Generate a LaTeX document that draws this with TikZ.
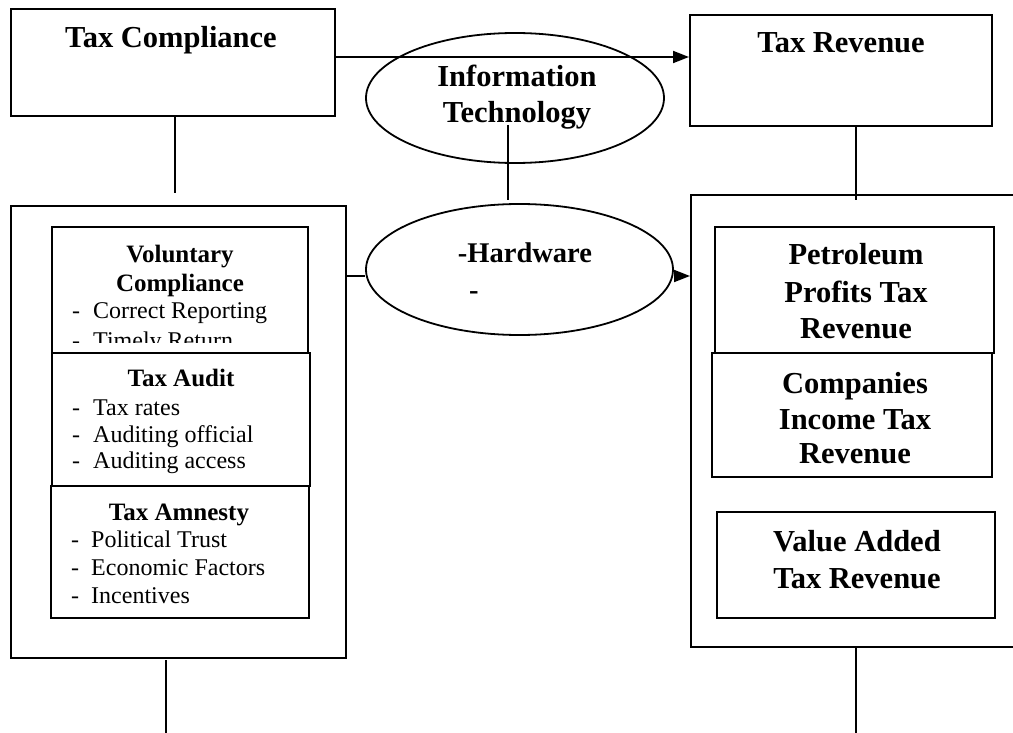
\documentclass[tikz,border=0pt]{standalone}
\usepackage{fontspec}
\setmainfont{Liberation Serif}
\usetikzlibrary{shapes.geometric,arrows.meta}
\newcommand{\ttlfont}{\fontsize{30.5}{36}\selectfont\bfseries}
\newcommand{\subfont}{\fontsize{25}{29}\selectfont\bfseries}
\newcommand{\itemfont}{\fontsize{24}{27}\selectfont}
\begin{document}
\begin{tikzpicture}[x=1pt,y=-1pt,
  box/.style={draw, line width=1.9pt, inner sep=0pt, anchor=north west, fill=white},
  oval/.style={draw, ellipse, line width=1.8pt, inner sep=0pt},
  conn/.style={line width=1.9pt},
  arr/.style={conn, -{Triangle[length=16pt,width=12pt]}},
  ttl/.style={anchor=base, font=\ttlfont, inner sep=0pt},
  sub/.style={anchor=base, font=\subfont, inner sep=0pt},
  item/.style={anchor=base west, font=\itemfont, inner sep=0pt}]
\useasboundingbox (0,0) rectangle (1013,733);

% outer frames
\node[box, minimum width=335pt, minimum height=452pt] (lo) at (10,205) {};
\begin{scope}
  \clip (0,0) rectangle (1013,733);
  \node[box, minimum width=345pt, minimum height=452pt] (ro) at (690,194) {};
\end{scope}

% top boxes
\node[box, minimum width=324pt, minimum height=107pt] (tc) at (10,8) {};
\node[ttl] (tct) at (171,48) {Tax Compliance};
\node[box, minimum width=302pt, minimum height=111pt] (tr) at (689,14) {};
\node[ttl] (trt) at (841,53) {Tax Revenue};

% ellipses
\node[oval, minimum width=298pt, minimum height=130pt] (it) at (515,98) {};
\node[ttl] (it1) at (517,87) {Information};
\node[ttl] (it2) at (517,123) {Technology};
\node[oval, minimum width=307pt, minimum height=131pt] (hw) at (519.5,269.5) {};
\node[ttl, font=\fontsize{28.5}{34}\selectfont\bfseries] (hw1) at (525,262) {-Hardware};
\node[anchor=base west, inner sep=0pt, font=\fontsize{28.5}{34}\selectfont\bfseries] (hw2) at (469,299) {-};

% left inner boxes
\node[box, minimum width=256pt, minimum height=126pt] (vc) at (51,226) {};
\begin{scope}
  \clip (51,226) rectangle (307,342);
  \node[sub] (vc1) at (180,262) {Voluntary};
  \node[sub] (vc2) at (180,291) {Compliance};
  \node[item] (vd1) at (72,318) {-};
  \node[item] (vi1) at (93,318) {Correct Reporting};
  \node[item] (vd2) at (72,348) {-};
  \node[item] (vi2) at (93,348) {Timely Return};
\end{scope}

\node[box, minimum width=258pt, minimum height=133pt] (ta) at (51,352) {};
\node[sub] (ta0) at (181,386) {Tax Audit};
\node[item] (tad1) at (72,415) {-};
\node[item] (tai1) at (93,415) {Tax rates};
\node[item] (tad2) at (72,442) {-};
\node[item] (tai2) at (93,442) {Auditing official};
\node[item] (tad3) at (72,468) {-};
\node[item] (tai3) at (93,468) {Auditing access};

\node[box, minimum width=258pt, minimum height=132pt] (am) at (50,485) {};
\node[sub] (am0) at (179,520) {Tax Amnesty};
\node[item] (amd1) at (71,547) {-};
\node[item] (ami1) at (91,547) {Political Trust};
\node[item] (amd2) at (71,575) {-};
\node[item] (ami2) at (91,575) {Economic Factors};
\node[item] (amd3) at (71,603) {-};
\node[item] (ami3) at (91,603) {Incentives};

% right inner boxes
\node[box, minimum width=279pt, minimum height=126pt] (pp) at (714,226) {};
\node[ttl] (pp1) at (856,264) {Petroleum};
\node[ttl] (pp2) at (856,302) {Profits Tax};
\node[ttl] (pp3) at (856,338) {Revenue};
\node[box, minimum width=280pt, minimum height=124pt] (ci) at (711,352) {};
\node[ttl] (ci1) at (855,393) {Companies};
\node[ttl] (ci2) at (855,429) {Income Tax};
\node[ttl] (ci3) at (855,463) {Revenue};
\node[box, minimum width=278pt, minimum height=106pt] (va) at (716,511) {};
\node[ttl] (va1) at (857,551) {Value Added};
\node[ttl] (va2) at (857,588) {Tax Revenue};

% connector end points
\coordinate (y57) at (0,57);
\coordinate (y276) at (0,276);
\coordinate (tcb) at (175,193);
\coordinate (trb) at (856,200);
\coordinate (itt) at (508,125);
\coordinate (itb) at (508,200);
\coordinate (lob) at (166,733);
\coordinate (lot) at (166,660);
\coordinate (rob) at (856,733);

% connectors
\draw[arr] (tc.east |- y57) -- (tr.west |- y57);
\draw[conn] (tcb |- tc.south) -- (tcb);
\draw[conn] (trb |- tr.south) -- (trb);
\draw[conn] (itt) -- (itb);
\draw[conn] (lo.east |- y276) -- (hw.west |- y276);
\draw[arr] (hw.east |- y276) -- (ro.west |- y276);
\draw[conn] (lot) -- (lob);
\draw[conn] (rob |- ro.south) -- (rob);
\end{tikzpicture}
\end{document}
